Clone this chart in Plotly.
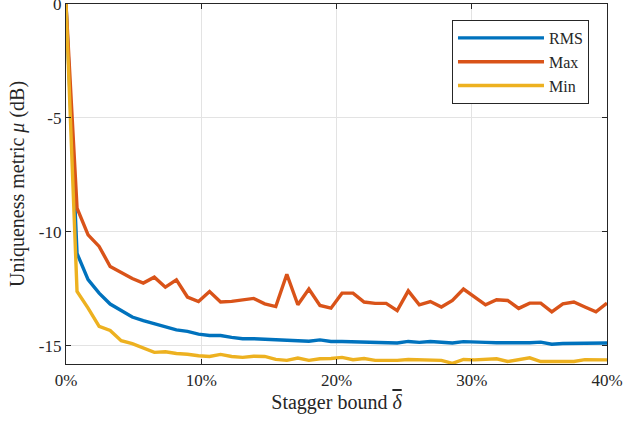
import numpy as np
import plotly.graph_objects as go

# Stagger bound (percent), 50 evenly spaced samples from 0 to 40 %
stagger_pct = np.linspace(0, 40, 50)

rms_db = [0.0, -10.95, -12.10, -12.69, -13.17, -13.46, -13.74, -13.90, -14.04, -14.18,
          -14.30, -14.37, -14.49, -14.55, -14.55, -14.63, -14.69, -14.69, -14.71, -14.74,
          -14.74, -14.75, -14.80, -14.74, -14.81, -14.81, -14.82, -14.84, -14.84, -14.87,
          -14.88, -14.81, -14.85, -14.81, -14.85, -14.88, -14.82, -14.85, -14.85, -14.87,
          -14.87, -14.88, -14.87, -14.84, -14.93, -14.90, -14.90, -14.90, -14.90, -14.88]

max_db = [0.0, -8.96, -10.13, -10.64, -11.52, -11.80, -12.05, -12.25, -11.99, -12.43,
          -12.11, -12.86, -13.06, -12.62, -13.08, -13.05, -12.98, -12.92, -13.16, -13.28,
          -11.86, -13.20, -12.51, -13.23, -13.35, -12.69, -12.69, -13.08, -13.14, -13.14,
          -13.46, -12.59, -13.20, -13.06, -13.30, -13.01, -12.51, -12.87, -13.20, -12.98,
          -13.01, -13.36, -13.13, -13.13, -13.51, -13.16, -13.08, -13.30, -13.51, -13.13]

min_db = [0.0, -12.62, -13.35, -14.15, -14.33, -14.78, -14.91, -15.12, -15.29, -15.26,
          -15.34, -15.37, -15.44, -15.47, -15.38, -15.47, -15.51, -15.46, -15.47, -15.60,
          -15.64, -15.54, -15.64, -15.57, -15.56, -15.51, -15.61, -15.56, -15.64, -15.64,
          -15.64, -15.60, -15.61, -15.60, -15.64, -15.77, -15.60, -15.62, -15.60, -15.57,
          -15.69, -15.60, -15.53, -15.69, -15.69, -15.69, -15.69, -15.61, -15.62, -15.62]

series_names = ["RMS", "Max", "Min"]
series_colors = ["#0072BD", "#D95319", "#EDB120"]

x_tickvals = [0, 10, 20, 30, 40]
x_ticktext = ["0%", "10%", "20%", "30%", "40%"]
y_tickvals = [0, -5, -10, -15]
y_ticktext = ["0", "-5", "-10", "-15"]

FONT = "Times New Roman, Times, serif"
AXIS_COLOR = "#262626"

fig = go.Figure()
for name, color, values in zip(series_names, series_colors, [rms_db, max_db, min_db]):
    fig.add_trace(go.Scatter(
        x=stagger_pct, y=values, name=name, mode="lines",
        line=dict(color=color, width=3.4),
    ))

axis_common = dict(
    showline=True, linecolor=AXIS_COLOR, linewidth=1.2, mirror="ticks",
    ticks="inside", ticklen=5, tickwidth=1, tickcolor=AXIS_COLOR,
    showgrid=True, gridcolor="#e3e3e3", gridwidth=1, zeroline=False,
    tickfont=dict(family=FONT, size=17, color=AXIS_COLOR),
    ticklabeloverflow="allow", automargin=False,
)

delta_bar = '<span style="text-decoration:overline"><i>δ</i></span>'

fig.update_xaxes(
    range=[0, 40], tickvals=x_tickvals, ticktext=x_ticktext,
    title=dict(text="Stagger bound " + delta_bar,
               font=dict(family=FONT, size=20, color=AXIS_COLOR), standoff=6),
    **axis_common,
)
fig.update_yaxes(
    range=[-15.8, 0], tickvals=y_tickvals, ticktext=y_ticktext,
    title=dict(text="Uniqueness metric <i>μ</i> (dB)",
               font=dict(family=FONT, size=20, color=AXIS_COLOR), standoff=8),
    **axis_common,
)

fig.update_layout(
    width=624, height=421,
    margin=dict(l=66, r=17, t=4, b=57, autoexpand=False),
    paper_bgcolor="white", plot_bgcolor="white",
    font=dict(family=FONT),
    showlegend=True,
    legend=dict(
        x=0.9667, y=0.9556, xanchor="right", yanchor="top",
        bgcolor="white", bordercolor=AXIS_COLOR, borderwidth=1,
        font=dict(family=FONT, size=16, color=AXIS_COLOR),
        itemwidth=86, tracegroupgap=0,
    ),
)

fig.write_html("out.html")
